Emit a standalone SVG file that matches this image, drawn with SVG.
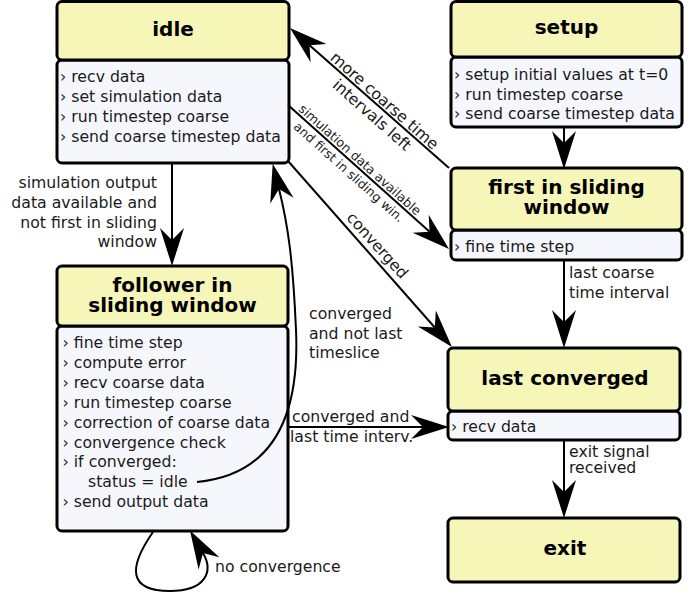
<svg xmlns="http://www.w3.org/2000/svg" width="693" height="596" viewBox="0 0 693 596">
<defs>
<style>
.hd{fill:#f6f6b9;stroke:#000;stroke-width:3}
.bd{fill:#f6f7fd;stroke:#000;stroke-width:3}
.t{font-family:"DejaVu Sans","Liberation Sans",sans-serif;font-weight:bold;font-size:20px;fill:#000;text-anchor:middle}
.i{font-family:"DejaVu Sans","Liberation Sans",sans-serif;font-size:15.7px;fill:#1a1a1a}
.l{font-family:"DejaVu Sans","Liberation Sans",sans-serif;font-size:15.7px;fill:#1a1a1a}
.s{font-family:"DejaVu Sans","Liberation Sans",sans-serif;font-size:12.6px;fill:#1a1a1a}
.m{text-anchor:middle}
.r{text-anchor:end}
.e{fill:none;stroke:#000;stroke-width:2;marker-end:url(#ah)}
</style>
<marker id="ah" viewBox="-13 -13 40 26" markerWidth="40" markerHeight="26" refX="0" refY="0" orient="auto" markerUnits="userSpaceOnUse">
<path d="M26,0 L-12,-12 L0,0 L-12,12 Z" fill="#000"/>
</marker>
</defs>
<rect width="693" height="596" fill="#fff"/>

<g id="node-idle">
<rect class="bd" x="57" y="60" width="232" height="103" rx="5"/>
<rect class="hd" x="57" y="1.5" width="232" height="58.5" rx="5"/>
<text class="t" x="173" y="35.5">idle</text>
<text class="i" x="60" y="82">› recv data</text>
<text class="i" x="60" y="102">› set simulation data</text>
<text class="i" x="60" y="122">› run timestep coarse</text>
<text class="i" x="60" y="142">› send coarse timestep data</text>
</g>

<g id="node-setup">
<rect class="bd" x="451" y="57" width="231" height="70" rx="5"/>
<rect class="hd" x="451" y="1.5" width="231" height="55.5" rx="5"/>
<text class="t" x="566.5" y="33.5">setup</text>
<text class="i" x="454" y="80">› setup initial values at t=0</text>
<text class="i" x="454" y="99.7">› run timestep coarse</text>
<text class="i" x="454" y="119.4">› send coarse timestep data</text>
</g>

<g id="node-first">
<rect class="bd" x="451" y="230" width="231" height="30" rx="5"/>
<rect class="hd" x="451" y="168" width="231" height="62" rx="5"/>
<text class="t" x="566.5" y="194">first in sliding</text>
<text class="t" x="566.5" y="213.5">window</text>
<text class="i" x="454" y="252">› fine time step</text>
</g>

<g id="node-follower">
<rect class="bd" x="57" y="326" width="231" height="205" rx="5"/>
<rect class="hd" x="57" y="266" width="231" height="60" rx="5"/>
<text class="t" x="172.5" y="291.7">follower in</text>
<text class="t" x="172.5" y="311.7">sliding window</text>
<text class="i" x="62.5" y="348">› fine time step</text>
<text class="i" x="62.5" y="368">› compute error</text>
<text class="i" x="62.5" y="388">› recv coarse data</text>
<text class="i" x="62.5" y="408">› run timestep coarse</text>
<text class="i" x="62.5" y="427.6">› correction of coarse data</text>
<text class="i" x="62.5" y="447.5">› convergence check</text>
<text class="i" x="62.5" y="467.4">› if converged:</text>
<text class="i" x="88" y="487.3">status = idle</text>
<text class="i" x="62.5" y="507.2">› send output data</text>
</g>

<g id="node-last">
<rect class="bd" x="448" y="411" width="232" height="29" rx="5"/>
<rect class="hd" x="448" y="348" width="232" height="63" rx="5"/>
<text class="t" x="565" y="385">last converged</text>
<text class="i" x="451" y="432">› recv data</text>
</g>

<g id="node-exit">
<rect class="hd" x="448" y="518" width="232" height="64" rx="5"/>
<text class="t" x="565" y="555">exit</text>
</g>

<g id="connectors">
<path class="e" d="M564,127 V143"/>
<path class="e" d="M564,260 V322"/>
<path class="e" d="M564,440 V492"/>
<path class="e" d="M172,163 V240"/>
<path class="e" d="M288,427 H423"/>
<path class="e" d="M449,168 L309.5,45.2"/>
<path class="e" d="M288,105 L429.6,231.7"/>
<path class="e" d="M288,161 L434.8,327.5"/>
<path class="e" d="M197,482 C270,475 300,420 296,330 C293,260 288,225 279,189"/>
<path class="e" d="M153,532 C128,568 128,591 170,591 C205,591 214,572 203,553"/>
</g>

<g id="edge-labels">
<text class="l r" x="157" y="188">simulation output</text>
<text class="l r" x="157" y="208">data available and</text>
<text class="l r" x="157" y="228">not first in sliding</text>
<text class="l r" x="157" y="247">window</text>
<text class="l" x="569" y="278.3">last coarse</text>
<text class="l" x="569" y="298.3">time interval</text>
<text class="l" x="569" y="456.7">exit signal</text>
<text class="l" x="569" y="473.3">received</text>
<text class="l" x="309" y="319">converged</text>
<text class="l" x="309" y="338.5">and not last</text>
<text class="l" x="309" y="358">timeslice</text>
<text class="l" x="292" y="422">converged and</text>
<text class="l" x="290" y="442">last time interv.</text>
<text class="l" x="215" y="571.7">no convergence</text>
<g transform="translate(379,107) rotate(41.4)">
<text class="l m" x="0" y="-3">more coarse time</text>
<text class="l m" x="0" y="16">intervals left</text>
</g>
<g transform="translate(354.3,166) rotate(41.8)">
<text class="s m" x="0" y="-4">simulation data available</text>
<text class="s m" x="0" y="12.5">and first in sliding win.</text>
</g>
<g transform="translate(370,252) rotate(48)">
<text class="l m" x="0" y="-4.5">converged</text>
</g>
</g>
</svg>
